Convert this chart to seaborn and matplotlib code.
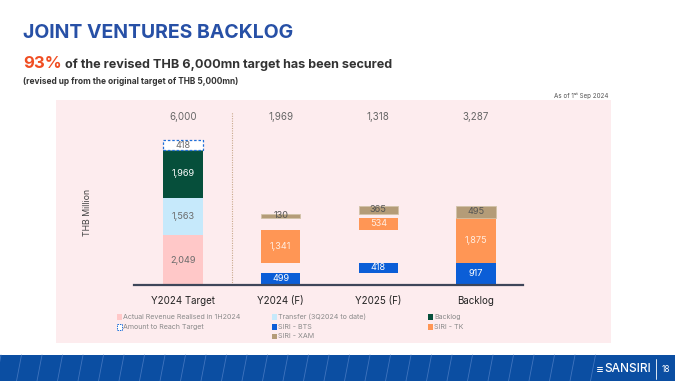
import matplotlib
matplotlib.use("Agg")
import matplotlib.pyplot as plt
import numpy as np
import seaborn as sns
from matplotlib.patches import Rectangle

# ── Data ──────────────────────────────────────────────
CATEGORIES = ["Y2024 Target", "Y2024 (F)", "Y2025 (F)", "Backlog"]
TOTALS = [6000, 1969, 1318, 3287]

TARGET_LABELS = ["Actual Revenue Realised in 1H2024", "Transfer (3Q2024 to date)",
                 "Backlog", "Amount to Reach Target"]
TARGET_VALUES = [2049, 1563, 1969, 418]

JV_LABELS = ["SIRI - BTS", "SIRI - TK", "SIRI - XAM"]
Y2024_F = [499, 1341, 130]
Y2025_F = [418, 534, 365]
BACKLOG = [917, 1875, 495]

# ── Style ─────────────────────────────────────────────
BG_PINK = "#FDECEE"
TARGET_COLORS = ["#FFC8C8", "#C6E9FB", "#064F3B", "none"]
TARGET_TEXT = ["#6b6b6b", "#6b6b6b", "#ffffff", "#6b6b6b"]
JV_COLORS = ["#0B5ED7", "#FF9655", "#B49C78"]
JV_TEXT = ["#ffffff", "#FFEDE0", "#555555"]
DASH_BLUE = "#1E6FD9"
PX = 0.02417  # pixels per THB million

sns.set_theme(style="white")
plt.rcParams["font.family"] = ["Inter", "DejaVu Sans"]

W, H = 675, 381
fig = plt.figure(figsize=(W / 100, H / 100), dpi=100)

# background decorations (pixel coords)
bg = fig.add_axes([0, 0, 1, 1])
bg.set_xlim(0, W)
bg.set_ylim(H, 0)
bg.axis("off")
bg.add_patch(Rectangle((56, 100), 555, 243, color=BG_PINK, lw=0))
bg.add_patch(Rectangle((0, 355), W, 26, color="#0B4EA2", lw=0))
for x0 in np.arange(-4, 600, 20.5):
    bg.plot([x0, x0 + 5], [381, 355], color="#3F74BE", lw=0.6)
bg.plot([656, 656], [359, 379], color="white", lw=0.6)
bg.text(604, 369, "SANSIRI", color="white", fontsize=8.5, va="center", ha="left",
        fontweight="medium")
for dy in (-2.4, 0, 2.4):
    bg.plot([597, 601.5], [369 + dy, 369 + dy], color="white", lw=0.7)
bg.text(662, 369, "18", color="white", fontsize=6, va="center", ha="left")

# ── Chart axes ────────────────────────────────────────
ax_top, ax_bot, ax_l, ax_r = 100, 285, 134, 523
ax = fig.add_axes([ax_l / W, 1 - ax_bot / H, (ax_r - ax_l) / W, (ax_bot - ax_top) / H])
ax.set_facecolor("none")
ax.set_ylim(0, (ax_bot - ax_top) / PX)
spacing = 97.7
ax.set_xlim(-(183 - ax_l) / spacing, 3 + (ax_r - 476) / spacing)
x = np.arange(len(CATEGORIES))
width = 0.40

# target stack
bottom = 0
for val, col, tcol in zip(TARGET_VALUES, TARGET_COLORS, TARGET_TEXT):
    if col == "none":
        ax.bar(x[0], val, width, bottom=bottom, facecolor="#FFFFFF", edgecolor=DASH_BLUE,
               linestyle=(0, (2, 1.5)), linewidth=0.9)
    else:
        ax.bar(x[0], val, width, bottom=bottom, color=col, linewidth=0)
    ax.text(x[0], bottom + val / 2, f"{val:,}", ha="center", va="center",
            fontsize=6.6, color=tcol)
    bottom += val

# JV waterfall: Y2024 and Y2025 pieces add up to the backlog stack
base = np.concatenate([[0], np.cumsum(BACKLOG)[:-1]])
pieces = [(x[1], Y2024_F, base), (x[2], Y2025_F, base + np.array(Y2024_F)), (x[3], BACKLOG, base)]
for xpos, vals, bots in pieces:
    for i, (val, b) in enumerate(zip(vals, bots)):
        ec = "#D2C2A8" if i == 2 else "none"
        ax.bar(xpos, val, width, bottom=b, color=JV_COLORS[i], edgecolor=ec, linewidth=0.6)
        ax.text(xpos, b + val / 2, f"{val:,}", ha="center",
                va="center", fontsize=6.6, color=JV_TEXT[i])

# totals on top
for xpos, tot in zip(x, TOTALS):
    ax.text(xpos, (ax_bot - 117) / PX, f"{tot:,}", ha="center", va="center",
            fontsize=7, color="#666666")

# dotted separator
ax.plot([0.5, 0.5], [0, (ax_bot - 112) / PX], color="#C9A98C", lw=0.8, linestyle=(0, (1, 1.2)))

for side in ("left", "right", "top"):
    ax.spines[side].set_visible(False)
ax.spines["bottom"].set_color("#3E4659")
ax.spines["bottom"].set_linewidth(1.6)
ax.set_yticks([])
ax.set_xticks(x)
ax.set_xticklabels(CATEGORIES, fontsize=7, color="#222222")
ax.tick_params(axis="x", length=0, pad=8)

fig.text(87 / W, 1 - 212 / H, "THB Million", rotation=90, fontsize=6.3,
         color="#444444", ha="center", va="center")

# ── Legend (three columns) ────────────────────────────
legend_items = [
    (TARGET_LABELS[0], TARGET_COLORS[0], 0, 0),
    (TARGET_LABELS[3], "dash", 0, 1),
    (TARGET_LABELS[1], TARGET_COLORS[1], 1, 0),
    (JV_LABELS[0], JV_COLORS[0], 1, 1),
    (JV_LABELS[2], JV_COLORS[2], 1, 2),
    (TARGET_LABELS[2], TARGET_COLORS[2], 2, 0),
    (JV_LABELS[1], JV_COLORS[1], 2, 1),
]
col_x = [117, 272, 428]
row_y = [317, 327, 336.5]
for label, col, c, r in legend_items:
    lx, ly = col_x[c], row_y[r]
    if col == "dash":
        bg.add_patch(Rectangle((lx, ly - 2.6), 5, 5.2, facecolor="white", edgecolor=DASH_BLUE,
                               lw=0.7, linestyle=(0, (1.5, 1))))
    else:
        bg.add_patch(Rectangle((lx, ly - 2.6), 5, 5.2, color=col, lw=0))
    bg.text(lx + 6, ly, label, fontsize=5.1, color="#8a8a8a", va="center", ha="left")

# ── Titles ────────────────────────────────────────────
fig.text(23 / W, 1 - 33 / H, "JOINT VENTURES BACKLOG", fontsize=14, fontweight="bold",
         color="#2750A6", va="center", ha="left")
t1 = fig.text(23 / W, 1 - 68 / H, "93%", fontsize=12, fontweight="bold",
              color="#F04E23", va="baseline", ha="left")
fig.canvas.draw()
ext = t1.get_window_extent(fig.canvas.get_renderer())
fig.text(ext.x1 / W + 3 / W, 1 - 68 / H, "of the revised THB 6,000mn target has been secured",
         fontsize=9.1, fontweight="bold", color="#333333", va="baseline", ha="left")
fig.text(23 / W, 1 - 84 / H, "(revised up from the original target of THB 5,000mn)",
         fontsize=6, fontweight="bold", color="#333333", va="baseline", ha="left")
fig.text(608 / W, 1 - 96 / H, "As of 1ˢᵗ Sep 2024", fontsize=4.5, color="#555555",
         va="center", ha="right")

fig.savefig("out.png", dpi=100)
plt.close(fig)
